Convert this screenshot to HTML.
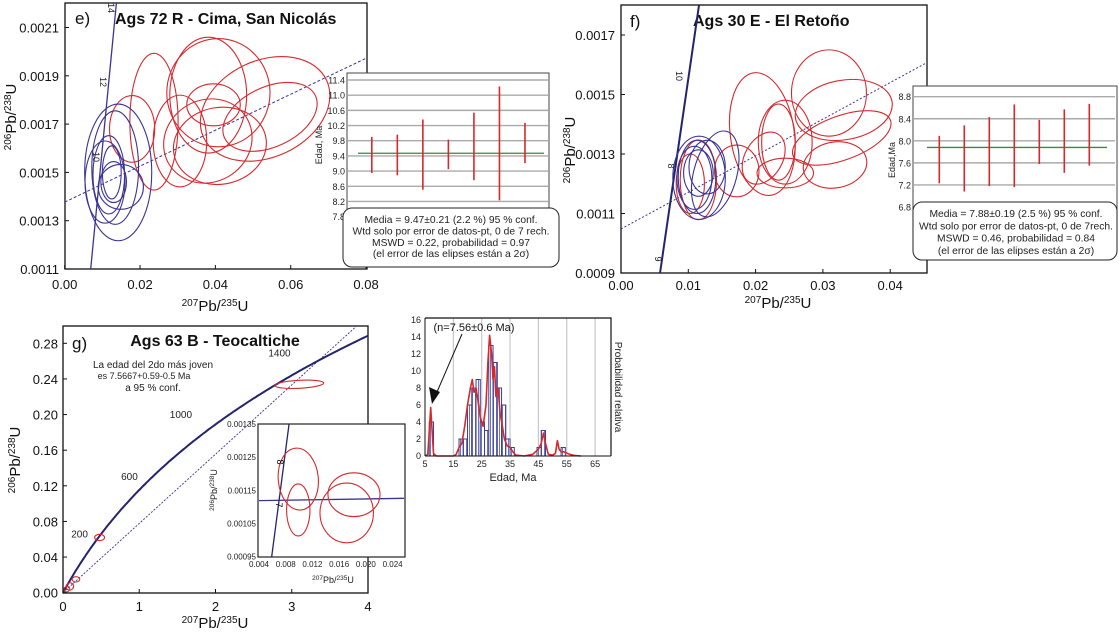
<!DOCTYPE html>
<html><head><meta charset="utf-8"><style>
html,body{margin:0;padding:0;background:#fff;}
svg{display:block;font-family:"Liberation Sans",Arial,sans-serif;}
.tk{font-size:13px;fill:#111;}
.tt{font-size:16px;font-weight:bold;fill:#111;}
.pl{font-size:17px;fill:#111;}
.ax{font-size:15px;fill:#111;}
.sm{font-size:10.3px;fill:#222;}
.hs{font-size:9px;fill:#222;}
</style></head><body>
<svg id="fig" width="1119" height="632" viewBox="0 0 1119 632" xmlns="http://www.w3.org/2000/svg">
<defs>
<clipPath id="ce"><rect x="65" y="3" width="302" height="266"/></clipPath>
<clipPath id="cf"><rect x="621" y="5" width="306" height="268"/></clipPath>
<clipPath id="cg"><rect x="63" y="326" width="305" height="267"/></clipPath>
<clipPath id="cgi"><rect x="258" y="424" width="147" height="133"/></clipPath>
<pattern id="hatch" width="3" height="4" patternUnits="userSpaceOnUse"><rect width="3" height="4" fill="#fff"/><line x1="1.5" y1="0" x2="1.5" y2="4" stroke="#6d74b8" stroke-width="1"/></pattern>
</defs>

<g>
<rect x="65" y="3" width="302" height="266" fill="none" stroke="#111" stroke-width="1.3"/>
<text class="pl" x="75" y="24">e)</text>
<text class="tt" x="115" y="24">Ags 72 R - Cima, San Nicolás</text>
<text class="ax" x="215" y="311" text-anchor="middle"><tspan font-size="10" dy="-5">207</tspan><tspan dy="5">Pb/</tspan><tspan font-size="10" dy="-5">235</tspan><tspan dy="5">U</tspan></text>
<text class="ax" transform="translate(16,117) rotate(-90)" text-anchor="middle"><tspan font-size="10" dy="-5">206</tspan><tspan dy="5">Pb/</tspan><tspan font-size="10" dy="-5">238</tspan><tspan dy="5">U</tspan></text>
</g>
<g>
<rect x="621" y="5" width="306" height="268" fill="none" stroke="#111" stroke-width="1.3"/>
<text class="pl" x="630" y="27">f)</text>
<text class="tt" x="693" y="26">Ags 30 E - El Retoño</text>
<text class="ax" x="778" y="308" text-anchor="middle"><tspan font-size="10" dy="-5">207</tspan><tspan dy="5">Pb/</tspan><tspan font-size="10" dy="-5">235</tspan><tspan dy="5">U</tspan></text>
<text class="ax" transform="translate(575,150) rotate(-90)" text-anchor="middle"><tspan font-size="10" dy="-5">206</tspan><tspan dy="5">Pb/</tspan><tspan font-size="10" dy="-5">238</tspan><tspan dy="5">U</tspan></text>
</g>
<g>
<rect x="63" y="326" width="305" height="267" fill="none" stroke="#111" stroke-width="1.3"/>
<text class="pl" x="72" y="349">g)</text>
<text class="tt" x="215" y="346" text-anchor="middle">Ags 63 B - Teocaltiche</text>
<text x="153" y="368" text-anchor="middle" font-size="10" fill="#222">La edad del 2do más joven</text>
<text x="144" y="379" text-anchor="middle" font-size="9" fill="#222">es 7.5667+0.59-0.5 Ma</text>
<text x="153" y="391" text-anchor="middle" font-size="10" fill="#222">a 95 % conf.</text>
<text class="ax" x="215" y="628" text-anchor="middle"><tspan font-size="10" dy="-5">207</tspan><tspan dy="5">Pb/</tspan><tspan font-size="10" dy="-5">235</tspan><tspan dy="5">U</tspan></text>
<text class="ax" transform="translate(20,460) rotate(-90)" text-anchor="middle"><tspan font-size="10" dy="-5">206</tspan><tspan dy="5">Pb/</tspan><tspan font-size="10" dy="-5">238</tspan><tspan dy="5">U</tspan></text>
</g>
</svg>
<script>
const NS='http://www.w3.org/2000/svg';
const svg=document.getElementById('fig');
function el(tag, attrs, name, parent){
  const e=document.createElementNS(NS,tag);
  for(const k in attrs) e.setAttribute(k,attrs[k]);
  
  
  (parent||svg).appendChild(e);
  return e;
}
function txt(x,y,s,cls,anchor,name,parent,extra){
  const t=el('text',Object.assign({x:x,y:y,'text-anchor':anchor||'start'},cls?{class:cls}:{},extra||{}),name,parent);
  t.textContent=s; return t;
}
const RED='#d42a2e', BLUE='#3b3392', NAVY='#23236e';

/* ---------------- data ---------------- */
const eTicksX=[0,0.02,0.04,0.06,0.08];
const eTicksY=[0.0011,0.0013,0.0015,0.0017,0.0019,0.0021];
const eRed=[[0.0408,0.00183,0.0137,0.000224,0],[0.0532,0.001763,0.0180,0.000200,-25],[0.0545,0.00173,0.0133,0.000124,-25],[0.0381,0.00182,0.0102,0.00024,0],[0.0395,0.00178,0.0071,0.000087,0],[0.0237,0.00171,0.0064,0.000283,0],[0.0306,0.00163,0.0071,0.00019,0],[0.0380,0.00163,0.0120,0.00017,-30],[0.0412,0.00161,0.0124,0.000159,-10],[0.0179,0.00168,0.0060,0.000138,0]];
const eBlue=[[0.0142,0.00150,0.0089,0.000283,0],[0.0134,0.00152,0.0062,0.000235,0],[0.0107,0.00146,0.0053,0.00017,0],[0.0117,0.00149,0.0042,0.000162,0],[0.0149,0.00144,0.0060,0.000093,0],[0.0125,0.00150,0.0025,0.00011,0],[0.0130,0.00146,0.0034,0.000085,0]];
const eConcAge=[10,12,14];
const eConcLine=[[0.0069,0.0011],[0.0138,0.002214]];
const eDisc=[[0,0.001377],[0.0802,0.001974]];
const eAgeTicks=[7.8,8.2,8.6,9.0,9.4,9.8,10.2,10.6,11.0,11.4];
const eLo=[8.95,8.89,8.51,9.05,8.76,8.23,9.21];
const eHi=[9.90,9.96,10.36,9.83,10.54,11.23,10.27];
const eMean=9.47;
const fTicksX=[0,0.01,0.02,0.03,0.04];
const fTicksY=[0.0009,0.0011,0.0013,0.0015,0.0017];
const fRed=[[0.0309,0.001505,0.00557,0.000145,0],[0.0331,0.001448,0.00728,0.000100,-10],[0.0328,0.001354,0.0077,0.000074,-20],[0.0318,0.001263,0.00475,0.000077,-10],[0.0210,0.001367,0.00475,0.000208,-8],[0.0244,0.00134,0.0040,0.000141,0],[0.0234,0.00134,0.0025,0.000128,0],[0.0212,0.001286,0.0028,0.000094,30],[0.0172,0.001243,0.0033,0.000087,0],[0.0244,0.001236,0.0042,0.00005,0],[0.0115,0.001213,0.0027,0.000134,0],[0.0103,0.00120,0.0021,0.0001,0]];
const fBlue=[[0.0140,0.001233,0.0032,0.000148,15],[0.0116,0.00122,0.0039,0.00014,0],[0.0113,0.001223,0.0028,0.000123,0],[0.0115,0.001236,0.0022,0.000078,0],[0.0109,0.00122,0.0026,0.000106,0],[0.0128,0.001256,0.0027,0.00009,0]];
const fConcAge=[9,8,10];
const fConcLine=[[0.0058,0.0009],[0.01159,0.0018]];
const fDisc=[[0,0.001048],[0.0456,0.001609]];
const fAgeTicks=[6.8,7.2,7.6,8.0,8.4,8.8];
const fLo=[7.23,7.08,7.18,7.16,7.58,7.42,7.55];
const fHi=[8.09,8.28,8.43,8.66,8.38,8.57,8.67];
const fMean=7.88;
const gTicksX=[0,1,2,3,4];
const gTicksY=[0,0.04,0.08,0.12,0.16,0.20,0.24,0.28];
const gConcLabels=[200,600,1000,1400];
const gRed=[[0.48,0.062,0.065,0.0035,0],[3.1,0.234,0.32,0.0045,-3],[0.17,0.015,0.05,0.003,0],[0.09,0.007,0.05,0.004,-30],[0.05,0.004,0.04,0.003,-30]];
const gDisc=[[0,0],[3.865,0.3005]];
const giTicksX=[0.004,0.008,0.012,0.016,0.020,0.024];
const giTicksY=[0.00095,0.00105,0.00115,0.00125,0.00135];
const giRed=[[0.00988,0.001184,0.0030,0.0000935,-5],[0.00988,0.001091,0.00175,0.0000784,0],[0.01822,0.001137,0.0039,0.000066,0],[0.01713,0.001082,0.0040,0.00009,0]];
const giConc=[[0.0059,0.00095],[0.0085,0.00135]];
const giHoriz=[[0.004,0.001119],[0.0257,0.001126]];
const hTicksX=[5,15,25,35,45,55,65];
const hTicksY=[0,2,4,6,8,10,12,14,16];
const hBinStart=[6.5,17,18.5,20,21.5,23,24.5,26,27.5,29,30.5,32,33.5,35,44.5,46,53];
const hCount=[4,2,2,6,8,9,4,3,13,11,8,6,2,1,1,3,1];
const hBinW=1.5;
const hCurveAge=[5,6,6.5,7,7.5,8,9,15,16,17,18,19,20,21,21.7,22.3,23,23.5,24.5,25.5,26.5,27.2,27.8,28.5,29,29.5,30,30.8,31.5,32.3,33,34,35,36,37,40,43,45,46,46.8,47.5,48.5,50,51,51.7,52.3,53,54,56,58,60];
const hCurveVal=[0,0.2,3,5.7,3,0.3,0,0,0.2,1,1.5,3.5,6,8,9,7.5,8,7,4.5,3.5,6,11,14.2,12,9,10.5,7,8,5,3.5,2,1.2,1,0.5,0.1,0,0.2,0.8,1.5,2.7,1.5,0.2,0.1,0.3,1.8,0.8,0.5,0.5,0.2,0.05,0];

/* ---------------- axis functions ---------------- */
const ex=v=>64.7+v*3767, ey=v=>269-(v-0.0011)*241500;
const fx=v=>621+v*6730, fy=v=>273-(v-0.0009)*297500;
const gx=v=>63+v*76.25, gy=v=>592.7-v*890.7;
const gix=v=>259+(v-0.004)*6680, giy=v=>556.7-(v-0.00095)*331750;
const hx=v=>425+(v-5)*2.835, hy=v=>456-v*8.5;
const eiX=i=>371.8+i*25.53, eiY=v=>80+(11.4-v)*37.96;
const fiX=i=>939.3+i*25, fiY=v=>96.7+(8.8-v)*55.15;

function ellipses(list,X,Y,sx,sy,color,name,parent){
  list.forEach(d=>{
    const cx=X(d[0]), cy=Y(d[1]);
    el('ellipse',{cx:cx,cy:cy,rx:d[2]*sx,ry:d[3]*sy,transform:`rotate(${d[4]} ${cx} ${cy})`,fill:'none',stroke:color,'stroke-width':1.1},name,parent);
  });
}
function line(pts,X,Y,attrs,name,parent){
  return el('line',Object.assign({x1:X(pts[0][0]),y1:Y(pts[0][1]),x2:X(pts[1][0]),y2:Y(pts[1][1])},attrs),name,parent);
}

/* ---------------- panel e ---------------- */
const ge=el('g',{'clip-path':'url(#ce)'},'plot-area-e');
line(eDisc,ex,ey,{stroke:BLUE,'stroke-width':1,'stroke-dasharray':'3,2'},'discordia-line-e',ge);
line(eConcLine,ex,ey,{stroke:BLUE,'stroke-width':1.3},'concordia-line-e',ge);
ellipses(eRed,ex,ey,3767,241500,RED,'error-ellipse-red-e',ge);
ellipses(eBlue,ex,ey,3767,241500,BLUE,'error-ellipse-blue-e',ge);
eConcAge.forEach((a,i)=>{
  const p=[[93,157],[100,82],[108,8]][i];
  txt(p[0],p[1],String(a),null,'middle','concordia-age-label-e',svg,{'font-size':9,fill:'#222',transform:`rotate(90 ${p[0]} ${p[1]})`});
});
eTicksX.forEach(v=>{
  el('line',{x1:ex(v),y1:269,x2:ex(v),y2:265,stroke:'#111'},'x-tick-e');
  txt(ex(v),289,v.toFixed(2),'tk','middle','x-tick-label-e');
});
eTicksY.forEach(v=>{
  el('line',{x1:65,y1:ey(v),x2:69,y2:ey(v),stroke:'#111'},'y-tick-e');
  txt(59,ey(v)+5,v.toFixed(4),'tk','end','y-tick-label-e');
});
el('rect',{x:347,y:73,width:202,height:150,fill:'#fff',stroke:'#444','stroke-width':1},'inset-frame-e');
eAgeTicks.forEach(v=>{
  el('line',{x1:348,y1:eiY(v),x2:548,y2:eiY(v),stroke:'#aaa','stroke-width':1.4},'inset-gridline-e');
  txt(345,eiY(v)+3.5,v.toFixed(1),'hs','end','inset-y-tick-label-e');
});
txt(322,145,'Edad, Ma','hs','middle','inset-y-axis-title-e',svg,{transform:'rotate(-90 322 145)','font-size':10});
el('line',{x1:358,y1:eiY(eMean),x2:544,y2:eiY(eMean),stroke:'#2f8a4e','stroke-width':1.3},'weighted-mean-line-e');
eLo.forEach((lo,i)=>{
  el('line',{x1:eiX(i),y1:eiY(eHi[i]),x2:eiX(i),y2:eiY(lo),stroke:RED,'stroke-width':1.6},'age-error-bar-e');
});
el('rect',{x:343,y:208,width:216,height:59,rx:9,fill:'#fff',stroke:'#222','stroke-width':1},'stats-box-e');
['Media = 9.47±0.21 (2.2 %) 95 % conf.','Wtd solo por error de datos-pt, 0 de 7 rech.','MSWD = 0.22, probabilidad = 0.97','(el error de las elipses están a 2σ)'].forEach((s,i)=>{
  txt(451,223+i*11.4,s,'sm','middle','stats-text-e');
});

/* ---------------- panel f ---------------- */
const gf=el('g',{'clip-path':'url(#cf)'},'plot-area-f');
line(fDisc,fx,fy,{stroke:BLUE,'stroke-width':1,'stroke-dasharray':'2,2'},'discordia-line-f',gf);
line(fConcLine,fx,fy,{stroke:NAVY,'stroke-width':2},'concordia-line-f',gf);
ellipses(fRed,fx,fy,6730,297500,RED,'error-ellipse-red-f',gf);
ellipses(fBlue,fx,fy,6730,297500,BLUE,'error-ellipse-blue-f',gf);
fConcAge.forEach((a,i)=>{
  const p=[[655,259],[668,166],[676,76]][i];
  txt(p[0],p[1],String(a),null,'middle','concordia-age-label-f',svg,{'font-size':9,fill:'#222',transform:`rotate(90 ${p[0]} ${p[1]})`});
});
fTicksX.forEach(v=>{
  el('line',{x1:fx(v),y1:273,x2:fx(v),y2:269,stroke:'#111'},'x-tick-f');
  txt(fx(v),290,v.toFixed(2),'tk','middle','x-tick-label-f');
});
fTicksY.forEach(v=>{
  el('line',{x1:621,y1:fy(v),x2:625,y2:fy(v),stroke:'#111'},'y-tick-f');
  txt(615,fy(v)+5,v.toFixed(4),'tk','end','y-tick-label-f');
});
el('rect',{x:913,y:86,width:204,height:130,fill:'#fff',stroke:'#444','stroke-width':1},'inset-frame-f');
fAgeTicks.forEach(v=>{
  el('line',{x1:914,y1:fiY(v),x2:1115,y2:fiY(v),stroke:'#aaa','stroke-width':1.4},'inset-gridline-f');
  txt(911,fiY(v)+3.5,v.toFixed(1),'hs','end','inset-y-tick-label-f');
});
txt(895,160,'Edad,Ma','hs','middle','inset-y-axis-title-f',svg,{transform:'rotate(-90 895 160)','font-size':10});
el('line',{x1:927,y1:fiY(fMean),x2:1107,y2:fiY(fMean),stroke:'#2f8a4e','stroke-width':1.3},'weighted-mean-line-f');
fLo.forEach((lo,i)=>{
  el('line',{x1:fiX(i),y1:fiY(fHi[i]),x2:fiX(i),y2:fiY(lo),stroke:RED,'stroke-width':1.6},'age-error-bar-f');
});
el('rect',{x:913,y:202,width:204,height:58,rx:9,fill:'#fff',stroke:'#222','stroke-width':1},'stats-box-f');
['Media = 7.88±0.19 (2.5 %) 95 % conf.','Wtd solo por error de datos-pt, 0 de 7rech.','MSWD = 0.46, probabilidad = 0.84','(el error de las elipses están a 2σ)'].forEach((s,i)=>{
  txt(1016,217+i*12.3,s,'sm','middle','stats-text-f');
});

/* ---------------- panel g ---------------- */
const gg=el('g',{'clip-path':'url(#cg)'},'plot-area-g');
line(gDisc,gx,gy,{stroke:BLUE,'stroke-width':0.9,'stroke-dasharray':'2,1.5'},'discordia-line-g',gg);
const L238=1.55125e-4, L235=9.8485e-4;
let d='';
for(let t=0;t<=1700;t+=10){const X=gx(Math.exp(L235*t)-1),Y=gy(Math.exp(L238*t)-1);d+=(t?'L':'M')+X.toFixed(1)+','+Y.toFixed(1);}
el('path',{d:d,fill:'none',stroke:NAVY,'stroke-width':2},'concordia-curve-g',gg);
ellipses(gRed,gx,gy,76.25,890.7,RED,'error-ellipse-g',gg);
gConcLabels.forEach(a=>{
  const X=gx(Math.exp(L235*a)-1), Y=gy(Math.exp(L238*a)-1);
  const off={200:[0,-27],600:[5,-26],1000:[-10,-25],1400:[-10,-20]}[a];
  txt(X+off[0],Y+off[1],String(a),null,'middle','concordia-age-label-g',svg,{'font-size':10,fill:'#222'});
});
gTicksX.forEach(v=>{
  el('line',{x1:gx(v),y1:593,x2:gx(v),y2:589,stroke:'#111'},'x-tick-g');
  txt(gx(v),611,String(v),'tk','middle','x-tick-label-g');
});
gTicksY.forEach(v=>{
  el('line',{x1:63,y1:gy(v),x2:67,y2:gy(v),stroke:'#111'},'y-tick-g');
  txt(58,gy(v)+5,v.toFixed(2),'tk','end','y-tick-label-g');
});
el('rect',{x:258,y:424,width:147,height:133,fill:'#fff',stroke:'#222','stroke-width':1.2},'inset-frame-g');
const gi=el('g',{'clip-path':'url(#cgi)'},'inset-plot-area-g');
line(giHoriz,gix,giy,{stroke:BLUE,'stroke-width':1.3},'inset-reference-line-g',gi);
line(giConc,gix,giy,{stroke:NAVY,'stroke-width':1.3},'inset-concordia-line-g',gi);
ellipses(giRed,gix,giy,6680,331750,RED,'inset-error-ellipse-g',gi);
txt(276,505,'7',null,'middle','inset-concordia-label-g',svg,{'font-size':9,transform:'rotate(90 276 505)'});
txt(277,462,'8',null,'middle','inset-concordia-label-g',svg,{'font-size':9,transform:'rotate(90 277 462)'});
giTicksX.forEach(v=>{
  txt(gix(v),567,v.toFixed(3),null,'middle','inset-x-tick-label-g',svg,{'font-size':8,fill:'#222'});
});
giTicksY.forEach(v=>{
  txt(256,giy(v)+3,v.toFixed(5),null,'end','inset-y-tick-label-g',svg,{'font-size':8,fill:'#222'});
});
txt(333,583,'',null,'middle','inset-x-axis-title-g',svg,{'font-size':9,fill:'#222'}).innerHTML='<tspan font-size="6.5" dy="-3">207</tspan><tspan dy="3">Pb/</tspan><tspan font-size="6.5" dy="-3">235</tspan><tspan dy="3">U</tspan>';
txt(217,490,'',null,'middle','inset-y-axis-title-g',svg,{'font-size':9,fill:'#222',transform:'rotate(-90 217 490)'}).innerHTML='<tspan font-size="6.5" dy="-3">206</tspan><tspan dy="3">Pb/</tspan><tspan font-size="6.5" dy="-3">238</tspan><tspan dy="3">U</tspan>';

/* ---------------- histogram ---------------- */
hTicksX.slice(1).forEach(v=>{
  el('line',{x1:hx(v),y1:318,x2:hx(v),y2:456,stroke:'#c8c8c8','stroke-width':1.2},'histogram-gridline');
});
hBinStart.forEach((s,i)=>{
  el('rect',{x:hx(s),y:hy(hCount[i]),width:hx(s+hBinW)-hx(s),height:hy(0)-hy(hCount[i]),fill:'url(#hatch)',stroke:'#3b3f95','stroke-width':1},'histogram-bar');
});
let pd='';
hCurveAge.forEach((a,i)=>{pd+=(i?'L':'M')+hx(a).toFixed(1)+','+hy(hCurveVal[i]).toFixed(1);});
el('path',{d:pd,fill:'none',stroke:RED,'stroke-width':1.6,'stroke-linejoin':'round'},'probability-density-curve');
el('polyline',{points:'425,318 611,318 611,456',fill:'none',stroke:'#111','stroke-width':1.2},'histogram-frame');
el('line',{x1:425,y1:318,x2:425,y2:456,stroke:'#111','stroke-width':1},'histogram-y-axis');
el('line',{x1:425,y1:456,x2:611,y2:456,stroke:'#111','stroke-width':1},'histogram-x-axis');
hTicksX.forEach(v=>{ txt(hx(v),467,String(v),'hs','middle','histogram-x-tick-label'); });
hTicksY.forEach(v=>{ txt(421,hy(v)+3,String(v),'hs','end','histogram-y-tick-label'); });
txt(513,481,'Edad, Ma',null,'middle','histogram-x-axis-title',svg,{'font-size':11,fill:'#222'});
txt(615,387,'Probabilidad relativa',null,'middle','histogram-y2-axis-title',svg,{'font-size':10,fill:'#222',transform:'rotate(90 615 387)'});
txt(474,331,'(n=7.56±0.6 Ma)',null,'middle','youngest-age-annotation',svg,{'font-size':11,fill:'#111'});
el('line',{x1:462,y1:334,x2:437,y2:392,stroke:'#111','stroke-width':1},'annotation-arrow-shaft');
el('polygon',{points:'432,404 429,387 440,392',fill:'#111'},'annotation-arrow-head');
</script>
</body></html>
